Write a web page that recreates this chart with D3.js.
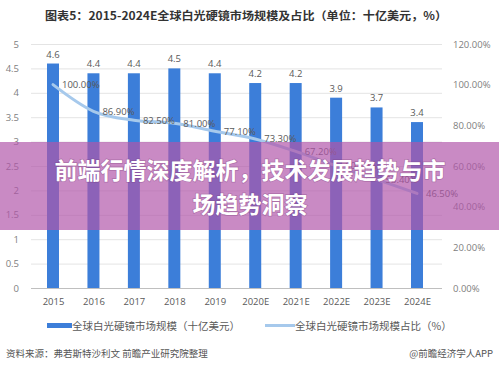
<!DOCTYPE html>
<html><head><meta charset="utf-8">
<script src="https://cdn.jsdelivr.net/npm/d3@7/dist/d3.min.js"></script>
<style>
html,body{margin:0;padding:0;background:#fff;}
svg{display:block;font-family:"Noto Sans CJK SC","Noto Sans",sans-serif;}
</style></head>
<body>
<svg id="chart" width="499" height="372"></svg>
<script>
const categories = ["2015","2016","2017","2018","2019","2020E","2021E","2022E","2023E","2024E"];
const marketSize = [4.6,4.4,4.4,4.5,4.4,4.2,4.2,3.9,3.7,3.4];
const marketShare = [100.0,86.9,82.5,81.0,77.1,73.3,67.2,60.1,53.4,46.5];
const leftTicks = [0,0.5,1,1.5,2,2.5,3,3.5,4,4.5,5];
const rightTicks = [0,20,40,60,80,100,120];
const titleText = "图表5：2015-2024E全球白光硬镜市场规模及占比（单位：十亿美元，%）";
const legendBar = "全球白光硬镜市场规模（十亿美元）";
const legendLine = "全球白光硬镜市场规模占比（%）";
const sourceText = "资料来源：弗若斯特沙利文 前瞻产业研究院整理";
const brandText = "@前瞻经济学人APP";
const bannerLines = ["前端行情深度解析，技术发展趋势与市","场趋势洞察"];

const svg = d3.select("#chart");
const barColor = "#3c7ed9";
const lineColor = "#a6c9ec";
const textColor = "#595959";

const x = d3.scalePoint().domain(categories).range([53, 417]);
const yL = d3.scaleLinear().domain([0,5]).range([288,44]);
const yR = d3.scaleLinear().domain([0,120]).range([288,44]);

// title
svg.append("text").attr("x",45).attr("y",20).attr("font-size",11.2).attr("font-weight",700)
  .attr("fill","#333").attr("textLength",402).attr("lengthAdjust","spacingAndGlyphs").text(titleText);

// gridlines
svg.append("g").selectAll("line").data(leftTicks).join("line")
  .attr("x1",31).attr("x2",442).attr("y1",d=>yL(d)+0.5).attr("y2",d=>yL(d)+0.5)
  .attr("stroke",d=>d===0?"#bfbfbf":"#e4e4e4").attr("stroke-width",1);

// left axis
const axL = svg.append("g").attr("transform","translate(19,0)")
  .call(d3.axisLeft(yL).tickValues(leftTicks).tickSize(0).tickPadding(0).tickFormat(d3.format("")));
axL.select(".domain").remove();
axL.selectAll("text").attr("font-size",9.5).attr("fill","#808080").attr("font-family","'Open Sans','Noto Sans',sans-serif");

// right axis
const axR = svg.append("g").attr("transform","translate(453,0)")
  .call(d3.axisRight(yR).tickValues(rightTicks).tickSize(0).tickPadding(0).tickFormat(d=>d.toFixed(2)+"%"));
axR.select(".domain").remove();
axR.selectAll("text").attr("font-size",9.5).attr("fill","#808080").attr("font-family","'Open Sans','Noto Sans',sans-serif");

// x axis
const axX = svg.append("g").attr("transform","translate(0,296)")
  .call(d3.axisBottom(x).tickSize(0).tickPadding(0));
axX.select(".domain").remove();
axX.selectAll("text").attr("font-size",9.5).attr("fill",textColor).attr("dy","0.9em").attr("font-family","'Open Sans','Noto Sans',sans-serif");

// bars
const bw = 12;
svg.append("g").selectAll("rect").data(marketSize).join("rect")
  .attr("x",(d,i)=>x(categories[i])-bw/2).attr("width",bw)
  .attr("y",d=>yL(d)).attr("height",d=>yL(0)-yL(d)).attr("fill",barColor);

svg.append("g").selectAll("text").data(marketSize).join("text")
  .attr("x",(d,i)=>x(categories[i])).attr("y",d=>yL(d)-6)
  .attr("text-anchor","middle").attr("font-size",9.5).attr("fill",textColor)
  .attr("font-family","'Open Sans','Noto Sans',sans-serif").text(d=>d.toFixed(1));

// line
const line = d3.line().x((d,i)=>x(categories[i])).y(d=>yR(d)).curve(d3.curveMonotoneX);
svg.append("path").datum(marketShare).attr("d",line).attr("fill","none")
  .attr("stroke",lineColor).attr("stroke-width",3).attr("stroke-linecap","round");

svg.append("g").selectAll("text").data(marketShare).join("text")
  .attr("x",(d,i)=>x(categories[i])+9).attr("y",d=>yR(d)).attr("dy","0.35em")
  .attr("font-size",9.5).attr("fill",textColor)
  .attr("font-family","'Open Sans','Noto Sans',sans-serif").text(d=>d.toFixed(2)+"%");

// legend
svg.append("rect").attr("x",47).attr("y",323).attr("width",25).attr("height",5).attr("fill",barColor);
svg.append("text").attr("x",72).attr("y",330).attr("font-size",10.5).attr("fill",textColor).text(legendBar);
svg.append("line").attr("x1",265).attr("x2",295).attr("y1",325.5).attr("y2",325.5)
  .attr("stroke",lineColor).attr("stroke-width",3);
svg.append("text").attr("x",295).attr("y",330).attr("font-size",10.5).attr("fill",textColor).text(legendLine);

// source
svg.append("text").attr("x",6).attr("y",357).attr("font-size",9.5).attr("fill","#555").text(sourceText);
svg.append("text").attr("x",493).attr("y",357).attr("text-anchor","end").attr("font-size",9.5).attr("fill","#555").text(brandText);

// banner overlay
svg.append("rect").attr("x",0).attr("y",142).attr("width",499).attr("height",88)
  .attr("fill","rgb(177,86,170)").attr("fill-opacity",0.69);
svg.append("g").selectAll("text").data(bannerLines).join("text")
  .attr("x",250).attr("y",(d,i)=>179+i*34).attr("text-anchor","middle")
  .attr("font-size",23).attr("font-weight",700).attr("fill","#fff")
  .attr("style","paint-order:stroke;").attr("stroke","rgba(120,60,120,0.35)").attr("stroke-width",1.5)
  .text(d=>d);
</script>
</body></html>
